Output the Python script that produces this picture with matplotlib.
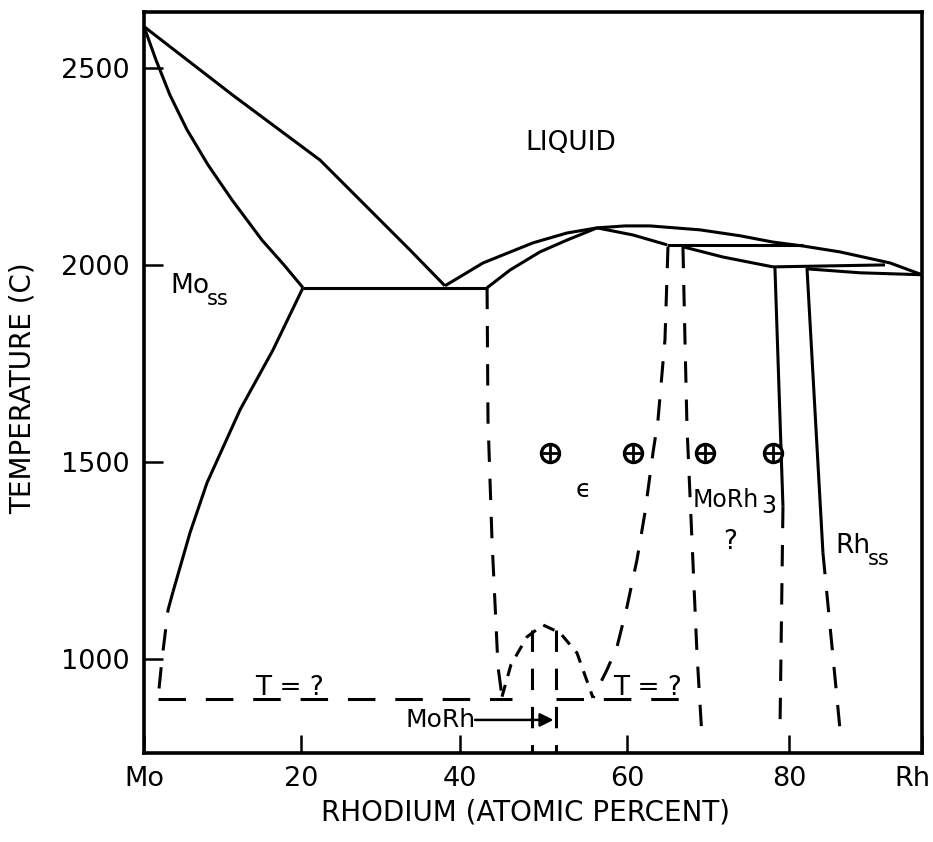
import numpy as np
import matplotlib
matplotlib.use('Agg')
import matplotlib.pyplot as plt
from matplotlib.transforms import ScaledTranslation

# ---------------- data (composition in at.% Rh, temperature in C) ----------------
# axis calibration of the original drawing: where each labelled tick sits along the axis (x100)
tick_true = [0, 20, 40, 60, 80, 100]
tick_drawn = [0, 20.18, 40.62, 62.08, 82.90, 100]
tick_labels = ['Mo', '20', '40', '60', '80', 'Rh']
ytick_vals = [1000, 1500, 2000, 2500]

liq_mo_x = [0, 11.3, 22.4, 33.7, 38.1]
liq_mo_t = [2605, 2431, 2266, 2038, 1947]

sol_mo_x = [0, 1.53, 3.31, 5.48, 8.15, 11.21, 15.03, 17.83, 20.25]
sol_mo_t = [2605, 2520, 2431, 2343, 2254, 2165, 2063, 2000, 1942]

eut_x = [20.25, 43.24]
eut_t = [1942, 1942]

solv_mo_x = [20.25, 16.43, 12.23, 8.03, 5.86, 3.69]
solv_mo_t = [1942, 1784, 1632, 1447, 1320, 1170]
solv_mo_dash_x = [3.69, 3.06, 2.3, 1.78]
solv_mo_dash_t = [1170, 1124, 1000, 898]

low_left_x = [1.78, 46.2]
low_left_t = [898, 898]
low_right_x = [51.5, 68.77]
low_right_t = [898, 898]

eps_left_x = [43.24, 43.35, 43.83, 44.55, 45.03]
eps_left_t = [1942, 1607, 1302, 980, 904]

liq_eps_x = [38.11, 42.76, 48.74, 52.81, 56.41]
liq_eps_t = [1947, 2005, 2056, 2081, 2094]

sol_eps_l_x = [43.24, 45.99, 49.58, 52.81, 56.41]
sol_eps_l_t = [1942, 1987, 2033, 2063, 2094]

liq_top_x = [56.41, 59.76, 62.84, 69.01, 73.95, 78.02, 82.11, 87.67, 95.19, 100]
liq_top_t = [2094, 2099, 2099, 2089, 2074, 2058, 2048, 2033, 2005, 1975]

sol_eps_r_x = [56.41, 60.74, 64.94]
sol_eps_r_t = [2094, 2076, 2051]

peri1_x = [64.94, 82.11]
peri1_t = [2050, 2050]

morh3_top_x = [66.91, 71.85, 78.02]
morh3_top_t = [2046, 2020, 1995]

peri2_x = [78.02, 94.44]
peri2_t = [1995, 2000]

sol_rh_x = [82.71, 90.68, 100]
sol_rh_t = [1990, 1980, 1975]

morh3_r_x = [78.27, 79.26]
morh3_r_t = [1992, 1386]
morh3_r_dash_x = [79.26, 78.89]
morh3_r_dash_t = [1386, 820]

rhss_x = [82.71, 85.11]
rhss_t = [1992, 1269]
rhss_dash_x = [85.11, 87.82]
rhss_dash_t = [1269, 795]

eps_right_x = [65.06, 64.69, 63.83, 63.21, 62.22, 61.23, 60.0, 58.80, 57.60, 55.93]
eps_right_t = [2046, 1810, 1607, 1523, 1371, 1251, 1132, 1030, 972, 901]

morh3_l_x = [66.91, 67.16, 67.41, 68.15, 68.64, 69.26]
morh3_l_t = [2046, 1810, 1589, 1243, 1015, 802]

bell_x = [45.03, 46.1, 48.03, 49.94, 51.98, 54.01, 55.93]
bell_t = [904, 985, 1056, 1086, 1066, 1015, 901]

morh_v_x = [48.62, 51.50]
morh_v_top = [1072, 1072]
t_bottom = 761
t_top = 2642

pts_x = [50.8, 60.7, 69.6, 78.0]
pts_t = [1523, 1523, 1523, 1523]

# ---------------- scale built from the calibration ----------------
ext_true = np.array([-1000] + tick_true + [1100], dtype=float)
ext_drawn = np.array([-1000] + tick_drawn + [1100], dtype=float)


def fwd(x):
    return np.interp(x, ext_true, ext_drawn)


def inv(u):
    return np.interp(u, ext_drawn, ext_true)


fig = plt.figure(figsize=(9.33, 8.42), dpi=100)
ax = fig.add_axes([0.15434, 0.10570, 0.83387, 0.88005])
ax.set_xscale('function', functions=(fwd, inv))
ax.set_xlim(0, 100)
ax.set_ylim(t_bottom, t_top)

LW = 2.2
solid = dict(color='black', lw=LW, solid_capstyle='butt', solid_joinstyle='round')
dashed = dict(color='black', lw=LW, linestyle=(0, (7, 5.5)), dash_capstyle='butt')
hdash = dict(color='black', lw=LW, linestyle=(0, (9, 6.5)), dash_capstyle='butt')
fdash = dict(color='black', lw=LW, linestyle=(0, (4, 3)), dash_capstyle='butt')

for xs, ts in [(liq_mo_x, liq_mo_t), (sol_mo_x, sol_mo_t), (eut_x, eut_t),
               (solv_mo_x, solv_mo_t), (liq_eps_x, liq_eps_t),
               (sol_eps_l_x, sol_eps_l_t), (liq_top_x, liq_top_t),
               (sol_eps_r_x, sol_eps_r_t), (peri1_x, peri1_t),
               (morh3_top_x, morh3_top_t), (peri2_x, peri2_t),
               (sol_rh_x, sol_rh_t), (morh3_r_x, morh3_r_t), (rhss_x, rhss_t)]:
    ax.plot(xs, ts, **solid)

for xs, ts in [(solv_mo_dash_x, solv_mo_dash_t), (eps_left_x, eps_left_t),
               (eps_right_x, eps_right_t), (morh3_l_x, morh3_l_t),
               (morh3_r_dash_x, morh3_r_dash_t), (rhss_dash_x, rhss_dash_t)]:
    ax.plot(xs, ts, **dashed)

for xs, ts in [(low_left_x, low_left_t), (low_right_x, low_right_t)]:
    ax.plot(xs, ts, **hdash)

ax.plot(bell_x, bell_t, **fdash)
for xv, tv in zip(morh_v_x, morh_v_top):
    ax.plot([xv, xv], [tv, t_bottom], **dashed)

# data points (circle with cross)
ax.plot(pts_x, pts_t, linestyle='none', marker='o', markersize=13,
        markerfacecolor='white', markeredgecolor='black', markeredgewidth=2.4)
ax.plot(pts_x, pts_t, linestyle='none', marker='+', markersize=13,
        markeredgecolor='black', markeredgewidth=2.0)

# ---------------- labels ----------------
FS = 19
ax.text(53.29, 2310, 'LIQUID', ha='center', va='center', fontsize=FS)
ax.text(3.31, 1929, 'Mo', ha='left', va='baseline', fontsize=FS)
ax.text(8.03, 1899, 'ss', ha='left', va='baseline', fontsize=15)
ax.text(18.6, 909, 'T = ?', ha='center', va='baseline', fontsize=FS)
ax.text(62.59, 909, 'T = ?', ha='center', va='baseline', fontsize=FS)
ax.text(54.73, 1429, '\u03f5', ha='center', va='center', fontsize=18)
ax.text(68.15, 1386, 'MoRh', ha='left', va='baseline', fontsize=17)
ax.text(76.6, 1371, '3', ha='left', va='baseline', fontsize=17)
ax.text(72.72, 1297, '?', ha='center', va='center', fontsize=FS)
ax.text(86.92, 1269, 'Rh', ha='left', va='baseline', fontsize=FS)
ax.text(91.88, 1239, 'ss', ha='left', va='baseline', fontsize=15)
ax.text(41.9, 845, 'MoRh', ha='right', va='center', fontsize=18)
ax.annotate('', xy=(51.2, 845), xytext=(41.8, 845),
            arrowprops=dict(arrowstyle='-|>', lw=1.8, color='black',
                            mutation_scale=20, shrinkA=0, shrinkB=0))

# ---------------- axes styling ----------------
ax.set_xticks(tick_true)
ax.set_xticklabels(tick_labels)
ax.set_yticks(ytick_vals)
ax.minorticks_off()
ax.tick_params(axis='both', direction='in', width=1.8, labelsize=19.5,
               top=False, right=False)
ax.tick_params(axis='y', length=14, pad=10)
ax.tick_params(axis='x', length=13, pad=9)
for sp in ax.spines.values():
    sp.set_linewidth(2.6)

# nudge the 'Rh' end label inward a little, as in the original
rh_lab = ax.get_xticklabels()[-1]
rh_lab.set_transform(rh_lab.get_transform() + ScaledTranslation(-7 / 72, 0, fig.dpi_scale_trans))

ax.set_xlabel('RHODIUM (ATOMIC PERCENT)', fontsize=20)
ax.xaxis.set_label_coords(0.491, -0.062)
ax.set_ylabel('TEMPERATURE (C)', fontsize=20)
ax.yaxis.set_label_coords(-0.138, 0.4926)

fig.savefig('out.png', dpi=100)
